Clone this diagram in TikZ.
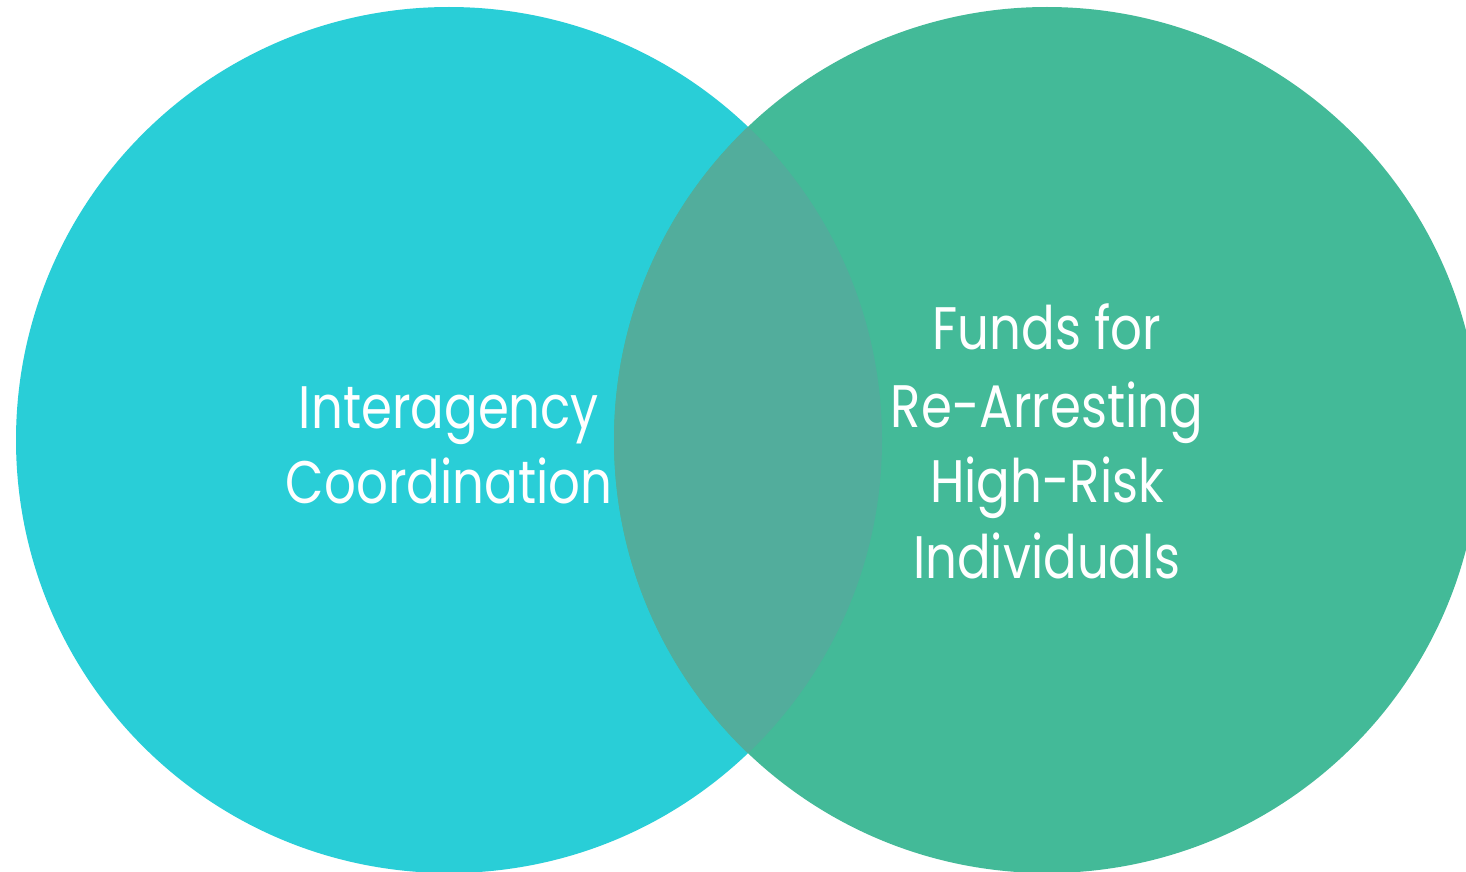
\documentclass[tikz,border=0pt]{standalone}
\usepackage{fontspec}
\usepackage{graphicx}
\setmainfont{Poppins}
\definecolor{leftc}{HTML}{29CED7}
\definecolor{rightc}{HTML}{43BA98}
\definecolor{overc}{HTML}{52AD9C}
\newcommand{\narrowtxt}[1]{\scalebox{0.83}[1]{#1}}
\begin{document}
\begin{tikzpicture}[x=1pt,y=-1pt,
  lbl/.style={text=white,anchor=base,inner sep=0pt,font=\fontsize{60}{72}\selectfont}]
\useasboundingbox (0,0) rectangle (1466,872);
\fill[white] (0,0) rectangle (1466,872);
\fill[leftc] (449,440) circle (433);
\fill[rightc] (1047,440) circle (433);
\begin{scope}
  \clip (449,440) circle (433);
  \fill[overc] (1047,440) circle (433);
\end{scope}
\node[lbl] (l1) at (449,428) {\narrowtxt{Interagency}};
\node[lbl] (l2) at (449,503) {\narrowtxt{Coordination}};
\node[lbl] (r1) at (1047,349) {\narrowtxt{Funds for}};
\node[lbl] (r2) at (1047,427) {\narrowtxt{Re-Arresting}};
\node[lbl] (r3) at (1047,502) {\narrowtxt{High-Risk}};
\node[lbl] (r4) at (1047,578) {\narrowtxt{Individuals}};
\end{tikzpicture}
\end{document}
